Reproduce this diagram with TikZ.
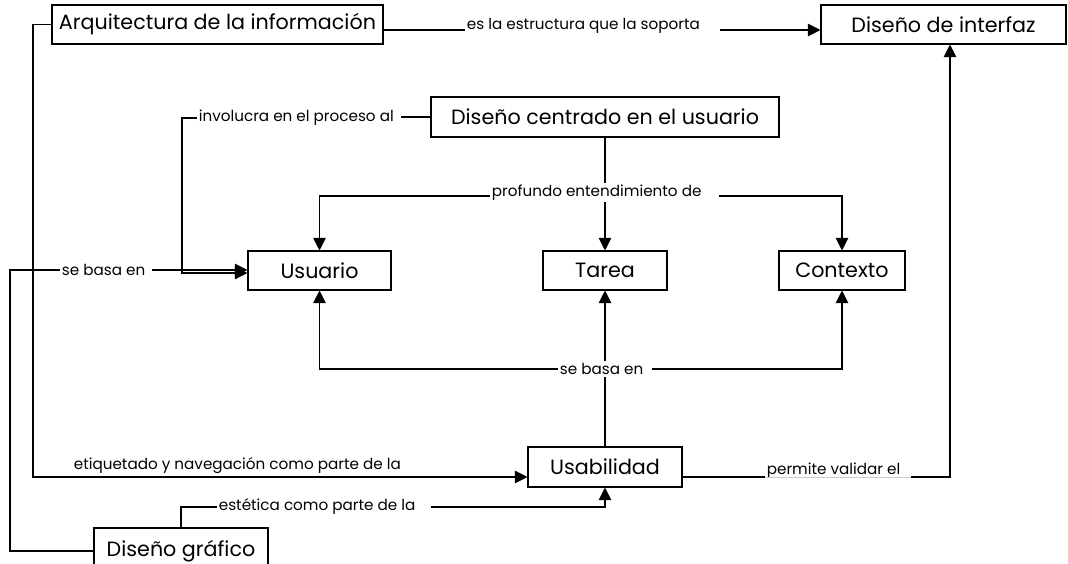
\documentclass[tikz,border=0pt]{standalone}
\usepackage{fontspec}
\setmainfont{Poppins}
\usetikzlibrary{arrows.meta}
\usetikzlibrary{calc}
\usetikzlibrary{positioning}

\begin{document}
\begin{tikzpicture}[x=0.75pt, y=-0.75pt, line width=0.8pt,
	>={Triangle[length=9.5pt,width=9.5pt]}]
	\useasboundingbox (0,0) rectangle (1068,564);
	\clip (0,0) rectangle (1068,564);

	\begin{scope}[every node/.style={draw, rectangle, inner sep=0pt, minimum height=29.25pt,
	              font=\fontsize{15.5}{18}\selectfont}]
		\node[minimum width=248.25pt] (arq) at (217.5,24.5) {Arquitectura de la información};
		\node[minimum width=183.75pt] (int) at (943.5,24.5) {Diseño de interfaz};
		\node[minimum width=261pt, minimum height=30pt] (dcu) at (605,117) {Diseño centrado en el usuario};
		\node[minimum width=107.25pt] (usu) at (319.5,270.5) {Usuario};
		\node[minimum width=93pt] (tar) at (605,270.5) {Tarea};
		\node[minimum width=94.5pt] (con) at (842,270.5) {Contexto};
		\node[minimum width=115.5pt, minimum height=30pt] (usa) at (605,467) {Usabilidad};
		\node[minimum width=130.5pt, minimum height=34.5pt] (dgr) at (181,551) {Diseño gráfico};
	\end{scope}

	\begin{scope}[every node/.style={inner sep=1pt, font=\fontsize{11.4}{13}\selectfont}]
		\node[anchor=base west] (l1) at (465,30) {es la estructura que la soporta};
		\node[anchor=west] (l2) at (197,118) {involucra en el proceso al};
		\node[anchor=base west] (l3) at (490,196) {profundo entendimiento de};
		\node[anchor=west] (l4) at (60,270) {se basa en};
		\node[anchor=west] (l5) at (558,369) {se basa en};
		\node[anchor=west] (l6) at (72,466) {etiquetado y navegación como parte de la};
		\node[anchor=west] (l7) at (217,507) {estética como parte de la};
		\node[anchor=base west] (l8) at (765,474) {permite validar el};
	\end{scope}

	\coordinate (c1) at (33,477);
	\coordinate (c2) at (182,273);
	\coordinate (c3) at (10,270);
	\coordinate (c4) at (950,477);
	\coordinate (c5) at (911,477);

	\draw (arq.east |- l1.base) -- (l1.base west);
	\draw[->] ([xshift=14pt]l1.base east) -- (l1.base -| int.west);
	\draw (dcu.west) -- ([xshift=4pt]dcu.west -| l2.east);
	\draw[->] (l2.west) -| (c2) -- (c2 -| usu.west);
	\draw (dcu.south) -- (dcu.south |- l3.north);
	\draw[->] (l3.base west) -| (usu.north);
	\draw[->] ([xshift=12pt]l3.base east) -| (con.north);
	\draw[->] (tar.north |- l3.south) -- (tar.north);
	\draw (dgr.west) -| (c3) -- (l4.west);
	\draw[->] ([xshift=4pt]l4.east) -- (l4.east -| usu.west);
	\draw[->] (l5.west) -| (usu.south);
	\draw[->] ([xshift=5pt]l5.east) -| (con.south);
	\draw (usa.north) -- (usa.north |- l5.south);
	\draw[->] (tar.south |- l5.north) -- (tar.south);
	\draw[->] (arq.west) -| (c1) -- (c1 -| usa.west);
	\draw (dgr.north) |- (l7.west);
	\draw[->] ([xshift=10pt]l7.east) -| (usa.south);
	\draw (c4 -| usa.east) -- (c4 -| l8.base west);
	\draw[gray!40, line width=0.6pt] (c4 -| l8.base west) -- (c5);
	\draw[->] (c5) -- (c4) -- (c4 |- int.south);
\end{tikzpicture}
\end{document}
